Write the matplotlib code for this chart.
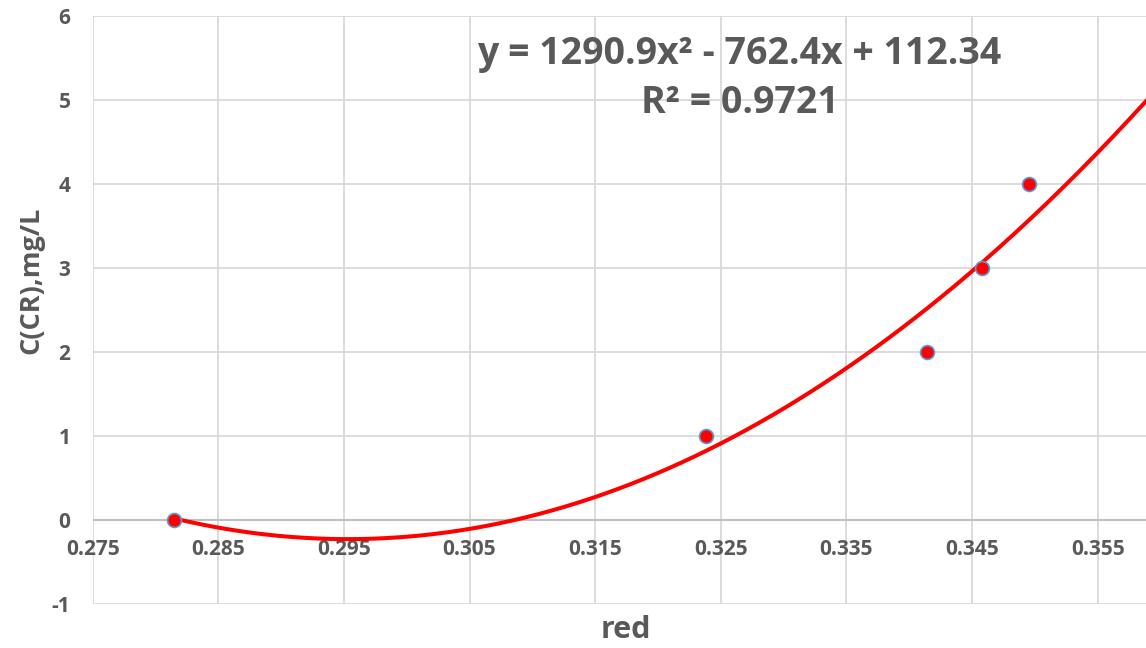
import numpy as np
import matplotlib
matplotlib.use('Agg')
import matplotlib.pyplot as plt

# absorbance (red channel) vs concentration
red = [0.2815, 0.3238, 0.3414, 0.3458, 0.3495]
conc = [0, 1, 2, 3, 4]

# quadratic trendline coefficients
a2, a1, a0 = 1290.9, -762.4, 112.34
r2 = 0.9721

xticks = [0.275, 0.285, 0.295, 0.305, 0.315, 0.325, 0.335, 0.345, 0.355]
yticks = [-1, 0, 1, 2, 3, 4, 5, 6]

grey = '#595959'
plt.rcParams['font.family'] = ['Open Sans', 'DejaVu Sans']
plt.rcParams['font.weight'] = 'bold'
plt.rcParams['axes.unicode_minus'] = False

fig = plt.figure(figsize=(11.46, 6.48), dpi=100)
ax = fig.add_axes([0.0809, 0.0679, 0.9191, 0.9074])

ax.set_xlim(0.275, 0.35885)
ax.set_ylim(-1, 6)

for x in xticks:
    ax.axvline(x, color='#D9D9D9', lw=1.3, zorder=0)
for y in yticks:
    if y != 0:
        ax.axhline(y, color='#D9D9D9', lw=1.3, zorder=0)
ax.axhline(0, color='#BFBFBF', lw=1.5, zorder=1)

for s in ax.spines.values():
    s.set_visible(False)

ax.spines['bottom'].set_position(('data', 0))
ax.set_xticks(xticks)
ax.set_xticklabels(['%.3f' % x for x in xticks])
ax.set_yticks(yticks)
ax.tick_params(axis='both', length=0, labelsize=15, labelcolor=grey)
ax.tick_params(axis='x', pad=14)
ax.tick_params(axis='y', pad=16)

# trendline from first point to right edge
xs = np.linspace(red[0], 0.35885, 300)
ax.plot(xs, a2 * xs**2 + a1 * xs + a0, color='#FF0000', lw=2.9, zorder=3)

ax.plot(red, conc, 'o', color='#FF0000', markersize=10,
        markeredgecolor='#5B9BD5', markeredgewidth=1.2, zorder=4)

ax.text(0.6135, 0.936, 'y = 1290.9x\u00b2 - 762.4x + 112.34',
        transform=ax.transAxes, ha='center', va='center',
        fontsize=27, color=grey, fontweight='bold')
ax.text(0.6145, 0.852, 'R\u00b2 = %.4f' % r2,
        transform=ax.transAxes, ha='center', va='center',
        fontsize=27, color=grey, fontweight='bold')

fig.text(626 / 1146, 1 - 630 / 648, 'red', ha='center', va='center',
         fontsize=22, color=grey, fontweight='bold')
fig.text(31 / 1146, 1 - 280 / 648, 'C(CR),mg/L', ha='center', va='center',
         rotation=90, fontsize=19.5, color=grey, fontweight='bold')

fig.savefig('out.png', dpi=100)
